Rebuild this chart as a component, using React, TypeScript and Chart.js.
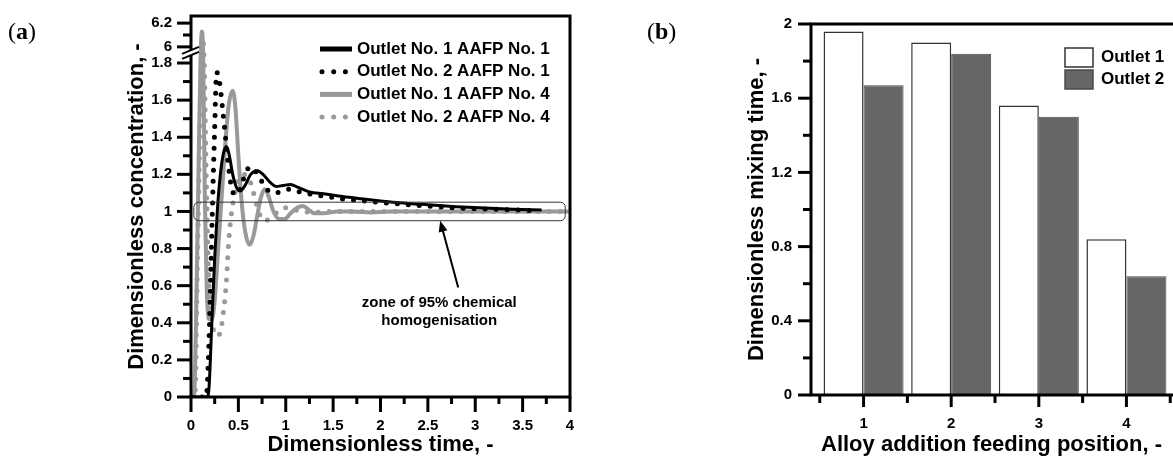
import React, { useEffect, useRef } from 'react';
import { Chart, registerables } from 'chart.js';

Chart.register(...registerables);

const FONT = "'Liberation Sans', Arial, sans-serif";

// ---------------- Panel (a) data ----------------
const A_LABELS = ['Outlet No. 1 AAFP No. 1', 'Outlet No. 2 AAFP No. 1', 'Outlet No. 1 AAFP No. 4', 'Outlet No. 2 AAFP No. 4'];

const A1_T = [0, 0.17, 0.19, 0.22, 0.25, 0.28, 0.31, 0.345, 0.375, 0.405, 0.44, 0.48, 0.52, 0.57, 0.63, 0.7, 0.76, 0.83, 0.9, 0.97, 1.05, 1.13, 1.25, 1.4, 1.6, 1.8, 2.0, 2.2, 2.5, 2.8, 3.1, 3.4, 3.7];
const A1_C = [0, 0, 0.05, 0.4, 0.75, 1.02, 1.2, 1.32, 1.35, 1.3, 1.2, 1.13, 1.11, 1.14, 1.2, 1.22, 1.2, 1.16, 1.135, 1.14, 1.145, 1.13, 1.105, 1.095, 1.08, 1.068, 1.057, 1.047, 1.036, 1.026, 1.018, 1.012, 1.008];

const A2_T = [0, 0.16, 0.19, 0.22, 0.25, 0.27, 0.3, 0.33, 0.36, 0.39, 0.42, 0.46, 0.5, 0.55, 0.6, 0.64, 0.69, 0.75, 0.82, 0.9, 0.98, 1.06, 1.15, 1.3, 1.45, 1.6, 1.8, 2.0, 2.2, 2.45, 2.7, 3.0, 3.3, 3.6];
const A2_C = [0, 0, 0.3, 0.9, 1.45, 1.75, 1.7, 1.57, 1.42, 1.27, 1.15, 1.09, 1.1, 1.17, 1.23, 1.24, 1.21, 1.16, 1.11, 1.1, 1.115, 1.12, 1.105, 1.09, 1.08, 1.067, 1.058, 1.048, 1.04, 1.03, 1.022, 1.015, 1.01, 1.005];

const A3_T = [0, 0.03, 0.06, 0.085, 0.1, 0.115, 0.13, 0.145, 0.165, 0.19, 0.22, 0.25, 0.28, 0.32, 0.36, 0.4, 0.44, 0.47, 0.5, 0.54, 0.58, 0.62, 0.66, 0.7, 0.74, 0.78, 0.82, 0.87, 0.93, 0.99, 1.05, 1.12, 1.18, 1.24, 1.3, 1.4, 1.55, 1.7, 1.9, 2.1, 2.4, 2.7, 3.0, 3.3, 3.6, 4.0];
const A3_C = [0, 0, 0.6, 1.4, 1.8, 6.13, 1.8, 1.1, 0.6, 0.42, 0.42, 0.52, 0.75, 1.05, 1.35, 1.58, 1.65, 1.55, 1.3, 1.02, 0.87, 0.82, 0.87, 0.98, 1.08, 1.12, 1.08, 1.0, 0.96, 0.96, 0.99, 1.02, 1.03, 1.01, 0.99, 0.99, 1.0, 1.0, 0.995, 1.0, 1.0, 1.0, 1.0, 1.0, 1.0, 1.0];

const A4_T = [0, 0.04, 0.07, 0.095, 0.11, 0.125, 0.14, 0.16, 0.19, 0.23, 0.27, 0.31, 0.34, 0.37, 0.4, 0.43, 0.48, 0.54, 0.6, 0.66, 0.72, 0.78, 0.85, 0.92, 1.0, 1.08, 1.18, 1.3, 1.5, 1.8, 2.1, 2.5, 3.0, 3.5, 4.0];
const A4_C = [0, 0, 0.8, 1.5, 1.8, 6.05, 1.8, 1.2, 0.6, 0.38, 0.33, 0.35, 0.45, 0.6, 0.85, 1.0, 1.13, 1.2, 1.19, 1.1, 0.99, 0.95, 0.97, 1.0, 1.02, 1.01, 1.0, 0.995, 1.0, 1.0, 1.0, 1.0, 1.0, 1.0, 1.0];

const A_X_MAJOR = [0, 0.5, 1, 1.5, 2, 2.5, 3, 3.5, 4];
const A_X_MINOR = [0.25, 0.75, 1.25, 1.75, 2.25, 2.75, 3.25, 3.75];
const A_Y_MAJOR = [0, 0.2, 0.4, 0.6, 0.8, 1, 1.2, 1.4, 1.6, 1.8, 6, 6.2];
const A_Y_LABELS = ['0', '0.2', '0.4', '0.6', '0.8', '1', '1.2', '1.4', '1.6', '1.8', '6', '6.2'];
const A_Y_MINOR = [0.1, 0.3, 0.5, 0.7, 0.9, 1.1, 1.3, 1.5, 1.7, 6.1];
const A_Y_MAX = 6.26;
const A_BREAK_AT = 1.855; // axis-space position of the break marks
const A_X_TITLE = 'Dimensionless time, -';
const A_Y_TITLE = 'Dimensionless concentration, -';

const ZONE_T = [0.03, 3.95];
const ZONE_C = [0.95, 1.05];
const ARROW_T = [2.82, 2.63];
const ARROW_C = [0.59, 0.95];
const NOTE_LINES = ['zone of 95% chemical', 'homogenisation'];
const NOTE_T = 2.62;
const NOTE_C = [0.505, 0.411];

// broken y axis: 0..1.8 linear, then 6..6.2 compressed above the break
function toAxis(c: number): number {
  return c <= 3 ? c : 1.887 + (c - 6) * 0.64;
}

// ---------------- Panel (b) data ----------------
const B_POSITIONS = [1, 2, 3, 4];
const B_OUTLET1 = [1.96, 1.9, 1.56, 0.84];
const B_OUTLET2 = [1.67, 1.84, 1.5, 0.64];
const B_LABELS = ['Outlet 1', 'Outlet 2'];
const B_Y_MAJOR = [0, 0.4, 0.8, 1.2, 1.6, 2];
const B_Y_MINOR = [0.2, 0.6, 1.0, 1.4, 1.8];
const B_X_MINOR = [0.5, 1.5, 2.5, 3.5, 4.5];
const B_X_TITLE = 'Alloy addition feeding position, -';
const B_Y_TITLE = 'Dimensionless mixing time, -';

// ---------------- styles ----------------
const A_STYLES = [
  { color: '#000000', width: 3, dash: [] as number[] },
  { color: '#000000', width: 5, dash: [0, 11] },
  { color: '#999999', width: 4, dash: [] as number[] },
  { color: '#9a9a9a', width: 5, dash: [0, 11] },
];
const B_STYLES = [
  { fill: '#ffffff', border: '#333333', width: 1.5 },
  { fill: '#666666', border: '#4a4a4a', width: 1 },
];

const tickFont = { family: FONT, size: 15, weight: 'bold' as const };
const titleFont = { family: FONT, size: 22, weight: 'bold' as const, lineHeight: 1 };

function zeroPad(scale: any) {
  scale.paddingTop = 0;
  scale.paddingBottom = 0;
  scale.paddingLeft = 0;
  scale.paddingRight = 0;
}

function drawTicks(ctx: CanvasRenderingContext2D, scale: any, values: number[], len: number, axis: 'x' | 'y', map = (v: number) => v) {
  ctx.save();
  ctx.strokeStyle = '#000';
  ctx.lineWidth = 3;
  ctx.lineCap = 'butt';
  for (const v of values) {
    const p = scale.getPixelForValue(map(v));
    ctx.beginPath();
    if (axis === 'y') {
      ctx.moveTo(scale.right, p);
      ctx.lineTo(scale.right - len, p);
    } else {
      ctx.moveTo(p, scale.top);
      ctx.lineTo(p, scale.top + len);
    }
    ctx.stroke();
  }
  ctx.restore();
}

const panelAPlugin = {
  id: 'panelA',
  afterDraw(chart: any) {
    const { ctx, chartArea: ca, scales } = chart;
    const x = scales.x;
    const y = scales.y;
    const px = (t: number) => x.getPixelForValue(t);
    const py = (c: number) => y.getPixelForValue(toAxis(c));

    // zone box
    ctx.save();
    ctx.strokeStyle = '#333';
    ctx.lineWidth = 1;
    const zx0 = px(ZONE_T[0]), zx1 = px(ZONE_T[1]);
    const zy0 = py(ZONE_C[1]), zy1 = py(ZONE_C[0]);
    ctx.beginPath();
    if ((ctx as any).roundRect) (ctx as any).roundRect(zx0, zy0, zx1 - zx0, zy1 - zy0, 5);
    else ctx.rect(zx0, zy0, zx1 - zx0, zy1 - zy0);
    ctx.stroke();
    ctx.restore();

    // arrow
    const ax0 = px(ARROW_T[0]), ay0 = py(ARROW_C[0]);
    const ax1 = px(ARROW_T[1]), ay1 = py(ARROW_C[1]);
    const ang = Math.atan2(ay1 - ay0, ax1 - ax0);
    const hl = 11, hw = 4.5;
    ctx.save();
    ctx.strokeStyle = '#000';
    ctx.fillStyle = '#000';
    ctx.lineWidth = 2;
    ctx.beginPath();
    ctx.moveTo(ax0, ay0);
    ctx.lineTo(ax1 - Math.cos(ang) * hl * 0.8, ay1 - Math.sin(ang) * hl * 0.8);
    ctx.stroke();
    ctx.beginPath();
    ctx.moveTo(ax1, ay1);
    ctx.lineTo(ax1 - Math.cos(ang) * hl - Math.sin(ang) * hw, ay1 - Math.sin(ang) * hl + Math.cos(ang) * hw);
    ctx.lineTo(ax1 - Math.cos(ang) * hl + Math.sin(ang) * hw, ay1 - Math.sin(ang) * hl - Math.cos(ang) * hw);
    ctx.closePath();
    ctx.fill();
    // note
    ctx.font = `bold 15px ${FONT}`;
    ctx.textAlign = 'center';
    ctx.textBaseline = 'middle';
    NOTE_LINES.forEach((ln, i) => ctx.fillText(ln, px(NOTE_T), py(NOTE_C[i])));
    ctx.restore();

    // frame
    ctx.save();
    ctx.strokeStyle = '#000';
    ctx.lineWidth = 3;
    ctx.strokeRect(ca.left, ca.top, ca.right - ca.left, ca.bottom - ca.top);
    ctx.restore();

    // ticks
    drawTicks(ctx, y, A_Y_MAJOR, 14, 'y', toAxis);
    drawTicks(ctx, y, A_Y_MINOR, 8, 'y', toAxis);
    drawTicks(ctx, x, A_X_MAJOR, 15, 'x');
    drawTicks(ctx, x, A_X_MINOR, 7, 'x');

    // axis break marks
    const by = y.getPixelForValue(A_BREAK_AT);
    ctx.save();
    ctx.fillStyle = '#fff';
    ctx.beginPath();
    ctx.moveTo(ca.left - 9, by + 1);
    ctx.lineTo(ca.left + 8, by - 6);
    ctx.lineTo(ca.left + 8, by - 1);
    ctx.lineTo(ca.left - 9, by + 6);
    ctx.closePath();
    ctx.fill();
    ctx.strokeStyle = '#000';
    ctx.lineWidth = 2;
    for (const off of [-2.5, 2.5]) {
      ctx.beginPath();
      ctx.moveTo(ca.left - 9, by + off + 3.5);
      ctx.lineTo(ca.left + 8, by + off - 3.5);
      ctx.stroke();
    }
    ctx.restore();

    // legend
    ctx.save();
    A_LABELS.forEach((lab, i) => {
      const st = A_STYLES[i];
      const ly = ca.top + 33 + i * 22.7;
      ctx.strokeStyle = st.color;
      ctx.lineWidth = 5;
      ctx.setLineDash(st.dash.length ? [0, 11.7] : []);
      ctx.lineCap = st.dash.length ? 'round' : 'butt';
      ctx.beginPath();
      ctx.moveTo(ca.left + (st.dash.length ? 131 : 129), ly);
      ctx.lineTo(ca.left + 161, ly);
      ctx.stroke();
      ctx.setLineDash([]);
      ctx.fillStyle = '#000';
      ctx.font = `bold 17px ${FONT}`;
      ctx.textAlign = 'left';
      ctx.textBaseline = 'middle';
      ctx.fillText(lab, ca.left + 166, ly);
    });
    ctx.restore();
  },
};

const panelBPlugin = {
  id: 'panelB',
  afterDraw(chart: any) {
    const { ctx, chartArea: ca, scales, width } = chart;
    const x = scales.x;
    const y = scales.y;
    ctx.save();
    ctx.strokeStyle = '#000';
    ctx.lineWidth = 3;
    ctx.beginPath();
    ctx.moveTo(width, ca.top);
    ctx.lineTo(ca.left, ca.top);
    ctx.lineTo(ca.left, ca.bottom);
    ctx.lineTo(width, ca.bottom);
    ctx.stroke();
    ctx.restore();

    drawTicks(ctx, y, B_Y_MAJOR, 13, 'y');
    drawTicks(ctx, y, B_Y_MINOR, 8, 'y');
    drawTicks(ctx, x, B_POSITIONS, 12, 'x');
    drawTicks(ctx, x, B_X_MINOR, 8, 'x');

    // legend
    ctx.save();
    B_LABELS.forEach((lab, i) => {
      const st = B_STYLES[i];
      const top = ca.top + 24 + i * 22;
      ctx.fillStyle = st.fill;
      ctx.fillRect(ca.right - 107, top, 28, 19);
      ctx.strokeStyle = st.border;
      ctx.lineWidth = 1.5;
      ctx.strokeRect(ca.right - 107, top, 28, 19);
      ctx.fillStyle = '#000';
      ctx.font = `bold 17px ${FONT}`;
      ctx.textAlign = 'left';
      ctx.textBaseline = 'middle';
      ctx.fillText(lab, ca.right - 71, top + 9.5);
    });
    ctx.restore();
  },
};

function makeLineDataset(label: string, ts: number[], cs: number[], i: number) {
  const st = A_STYLES[i];
  return {
    label,
    data: ts.map((t, k) => ({ x: t, y: toAxis(cs[k]) })),
    borderColor: st.color,
    backgroundColor: st.color,
    borderWidth: st.width,
    borderDash: st.dash,
    borderCapStyle: st.dash.length ? ('round' as const) : ('butt' as const),
    borderJoinStyle: 'round' as const,
    pointRadius: 0,
    fill: false,
    cubicInterpolationMode: 'monotone' as const,
  };
}

export default function App() {
  const refA = useRef<HTMLCanvasElement>(null);
  const refB = useRef<HTMLCanvasElement>(null);

  useEffect(() => {
    const chartA = new Chart(refA.current as HTMLCanvasElement, {
      type: 'line',
      data: {
        datasets: [
          makeLineDataset(A_LABELS[0], A1_T, A1_C, 0),
          makeLineDataset(A_LABELS[1], A2_T, A2_C, 1),
          makeLineDataset(A_LABELS[2], A3_T, A3_C, 2),
          makeLineDataset(A_LABELS[3], A4_T, A4_C, 3),
        ] as any,
      },
      options: {
        responsive: false,
        animation: false,
        events: [],
        layout: { padding: { left: 0, top: 16, right: 20, bottom: 0 } },
        plugins: { legend: { display: false }, tooltip: { enabled: false } },
        scales: {
          x: {
            type: 'linear',
            min: 0,
            max: 4,
            grid: { display: false, drawTicks: false },
            border: { display: false },
            afterBuildTicks: (s: any) => { s.ticks = A_X_MAJOR.map((v) => ({ value: v })); },
            ticks: { font: tickFont, color: '#000', padding: 20, autoSkip: false, maxRotation: 0, callback: (v: any) => String(v) },
            title: { display: true, text: A_X_TITLE, font: titleFont, color: '#000', padding: { top: 0, bottom: 0 } },
            afterFit: (s: any) => { s.height = 59; zeroPad(s); },
          },
          y: {
            type: 'linear',
            min: 0,
            max: toAxis(A_Y_MAX),
            grid: { display: false, drawTicks: false },
            border: { display: false },
            afterBuildTicks: (s: any) => { s.ticks = A_Y_MAJOR.map((v) => ({ value: toAxis(v) })); },
            ticks: { font: tickFont, color: '#000', padding: 19, autoSkip: false, callback: (_v: any, i: number) => A_Y_LABELS[i] },
            title: { display: true, text: A_Y_TITLE, font: titleFont, color: '#000', padding: { top: 126, bottom: 0 } },
            afterFit: (s: any) => { s.width = 191; zeroPad(s); },
          },
        },
      } as any,
      plugins: [panelAPlugin],
    });

    const chartB = new Chart(refB.current as HTMLCanvasElement, {
      type: 'bar',
      data: {
        datasets: [B_OUTLET1, B_OUTLET2].map((vals, i) => ({
          label: B_LABELS[i],
          data: B_POSITIONS.map((p, k) => ({ x: p, y: vals[k] })),
          backgroundColor: B_STYLES[i].fill,
          borderColor: B_STYLES[i].border,
          borderWidth: B_STYLES[i].width,
          categoryPercentage: 0.913,
          barPercentage: 1,
        })) as any,
      },
      options: {
        responsive: false,
        animation: false,
        events: [],
        layout: { padding: { left: 0, top: 24, right: 1, bottom: 0 } },
        plugins: { legend: { display: false }, tooltip: { enabled: false } },
        scales: {
          x: {
            type: 'linear',
            offset: false,
            min: 0.4,
            max: 4.52,
            grid: { display: false, drawTicks: false },
            border: { display: false },
            afterBuildTicks: (s: any) => { s.ticks = B_POSITIONS.map((v) => ({ value: v })); },
            ticks: { font: tickFont, color: '#000', padding: 20, autoSkip: false, maxRotation: 0, callback: (v: any) => String(v) },
            title: { display: true, text: B_X_TITLE, font: titleFont, color: '#000', padding: { top: 0, bottom: 0 } },
            afterFit: (s: any) => { s.height = 61; zeroPad(s); },
          },
          y: {
            type: 'linear',
            min: 0,
            max: 2,
            grid: { display: false, drawTicks: false },
            border: { display: false },
            afterBuildTicks: (s: any) => { s.ticks = B_Y_MAJOR.map((v) => ({ value: v })); },
            ticks: { font: tickFont, color: '#000', padding: 19, autoSkip: false, callback: (v: any) => String(v) },
            title: { display: true, text: B_Y_TITLE, font: titleFont, color: '#000', padding: { top: 146, bottom: 0 } },
            afterFit: (s: any) => { s.width = 211; zeroPad(s); },
          },
        },
      } as any,
      plugins: [panelBPlugin],
    });

    return () => {
      chartA.destroy();
      chartB.destroy();
    };
  }, []);

  const panelLabel: React.CSSProperties = {
    position: 'absolute',
    top: 19,
    fontFamily: "'Liberation Serif', 'DejaVu Serif', serif",
    fontSize: 24,
    lineHeight: '24px',
    color: '#000',
  };

  return (
    <div style={{ position: 'fixed', left: 0, top: 0, width: 1173, height: 456, overflow: 'hidden', background: '#fff' }}>
      <canvas ref={refA} width={590} height={456} style={{ position: 'absolute', left: 0, top: 0 }} />
      <canvas ref={refB} width={573} height={456} style={{ position: 'absolute', left: 600, top: 0 }} />
      <div style={{ ...panelLabel, left: 8 }}>(<b>a</b>)</div>
      <div style={{ ...panelLabel, left: 647 }}>(<b>b</b>)</div>
    </div>
  );
}
